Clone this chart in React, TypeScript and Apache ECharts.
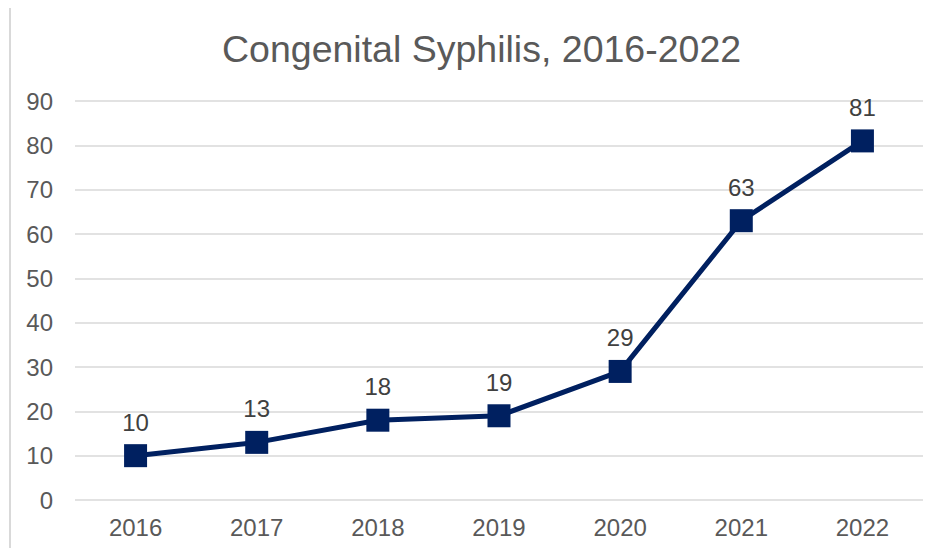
import React, { useEffect, useRef } from "react";
import * as echarts from "echarts";

const years = ["2016", "2017", "2018", "2019", "2020", "2021", "2022"];
const cases = [10, 13, 18, 19, 29, 63, 81];
const titleText = "Congenital Syphilis, 2016-2022";

export default function App() {
  const ref = useRef<HTMLDivElement>(null);
  useEffect(() => {
    if (!ref.current) return;
    const chart = echarts.init(ref.current, null, { renderer: "svg" });
    const font = "'Liberation Sans', Arial, sans-serif";
    chart.setOption({
      animation: false,
      backgroundColor: "#ffffff",
      textStyle: { fontFamily: font },
      title: {
        text: titleText,
        left: 217,
        top: 25,
        textStyle: { fontFamily: font, fontSize: 37.5, fontWeight: "normal", color: "#595959" },
      },
      graphic: [
        {
          type: "rect",
          shape: { x: 10, y: 5, width: 960, height: 600 },
          style: { fill: "none", stroke: "#d9d9d9", lineWidth: 2 },
          silent: true,
          z: -1,
        },
      ],
      grid: { left: 75, right: 17, top: 101, bottom: 56, containLabel: false },
      xAxis: {
        type: "category",
        data: years,
        boundaryGap: true,
        axisLine: { show: false },
        axisTick: { show: false },
        axisLabel: { color: "#595959", fontSize: 24, fontFamily: font, margin: 15 },
      },
      yAxis: {
        type: "value",
        min: 0,
        max: 90,
        interval: 10,
        axisLine: { show: false },
        axisTick: { show: false },
        axisLabel: { color: "#595959", fontSize: 24, fontFamily: font, margin: 22 },
        splitLine: { lineStyle: { color: "#d9d9d9", width: 1.5 } },
      },
      series: [
        {
          type: "line",
          data: cases,
          symbol: "rect",
          symbolSize: 23,
          itemStyle: { color: "#002060" },
          lineStyle: { color: "#002060", width: 5 },
          label: {
            show: true,
            position: "top",
            distance: 10,
            color: "#404040",
            fontSize: 24,
            fontFamily: font,
          },
        },
      ],
    });
    return () => chart.dispose();
  }, []);
  return (
    <div
      ref={ref}
      style={{ width: 940, height: 556, margin: -8, position: "relative" }}
    />
  );
}
